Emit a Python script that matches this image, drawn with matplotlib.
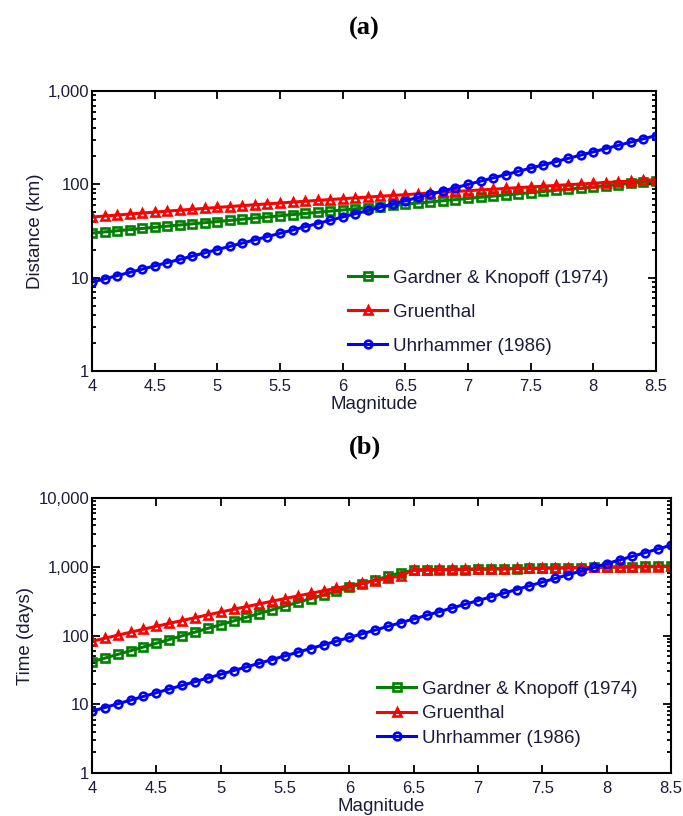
import matplotlib
matplotlib.use("Agg")
import matplotlib.pyplot as plt
import numpy as np
from matplotlib.ticker import FixedLocator, FuncFormatter, LogLocator, NullFormatter

plt.rcParams["font.family"] = ["Liberation Sans", "DejaVu Sans"]

magnitude = [round(4.0 + 0.1 * i, 1) for i in range(46)]

# window distances (km)
gk_distance = [
    30.08, 30.95, 31.84, 32.76, 33.71, 34.68, 35.69, 36.72, 37.78, 38.87,
    39.99, 41.15, 42.34, 43.56, 44.82, 46.12, 47.45, 48.82, 50.23, 51.69,
    53.18, 54.72, 56.30, 57.93, 59.60, 61.33, 63.10, 64.92, 66.80, 68.73,
    70.72, 72.76, 74.87, 77.03, 79.26, 81.55, 83.91, 86.33, 88.83, 91.40,
    94.04, 96.76, 99.56, 102.4, 105.4, 108.4,
]
gruenthal_distance = [
    44.67, 45.80, 46.94, 48.10, 49.28, 50.46, 51.67, 52.89, 54.12, 55.37,
    56.64, 57.92, 59.22, 60.53, 61.87, 63.22, 64.58, 65.96, 67.36, 68.78,
    70.21, 71.66, 73.13, 74.61, 76.12, 77.65, 79.19, 80.75, 82.33, 83.93,
    85.55, 87.19, 88.84, 90.52, 92.22, 93.94, 95.67, 97.43, 99.21, 101.0,
    102.8, 104.7, 106.5, 108.4, 110.3, 112.3,
]
uhrhammer_distance = [
    8.954, 9.704, 10.52, 11.40, 12.35, 13.39, 14.51, 15.72, 17.04, 18.46,
    20.01, 21.68, 23.50, 25.47, 27.60, 29.91, 32.41, 35.13, 38.07, 41.26,
    44.71, 48.46, 52.51, 56.91, 61.68, 66.84, 72.44, 78.50, 85.07, 92.20,
    99.92, 108.3, 117.3, 127.2, 137.8, 149.3, 161.8, 175.4, 190.1, 206.0,
    223.2, 241.9, 262.2, 284.1, 307.9, 333.7,
]

# window durations (days)
gk_time = [
    41.37, 46.86, 53.07, 60.11, 68.09, 77.12, 87.35, 98.94, 112.1, 126.9,
    143.8, 162.8, 184.4, 208.9, 236.6, 268.0, 303.5, 343.8, 389.4, 441.0,
    499.5, 565.8, 640.8, 725.8, 822.1, 884.9, 891.5, 898.1, 904.7, 911.4,
    918.2, 924.9, 931.8, 938.7, 945.6, 952.6, 959.7, 966.8, 973.9, 981.1,
    988.4, 995.7, 1003.1, 1010.5, 1018.0, 1025.5,
]
gruenthal_time = [
    82.32, 91.25, 101.0, 111.7, 123.4, 136.1, 150.0, 165.2, 181.6, 199.5,
    219.1, 240.2, 263.2, 288.2, 315.2, 344.5, 376.2, 410.5, 447.6, 487.6,
    530.9, 577.6, 628.0, 682.3, 740.9, 903.6, 908.6, 913.6, 918.7, 923.8,
    928.9, 934.0, 939.2, 944.4, 949.6, 955.0, 960.3, 965.6, 970.9, 976.3,
    981.7, 987.2, 992.6, 998.1, 1003.7, 1009.2,
]
uhrhammer_time = [
    7.925, 8.967, 10.15, 11.48, 12.99, 14.70, 16.63, 18.81, 21.28, 24.08,
    27.25, 30.83, 34.88, 39.47, 44.66, 50.53, 57.17, 64.68, 73.19, 82.81,
    93.69, 106.0, 119.9, 135.7, 153.5, 173.7, 196.6, 222.4, 251.6, 284.7,
    322.1, 364.5, 412.4, 466.6, 527.9, 597.3, 675.8, 764.7, 865.2, 978.9,
    1107.6, 1253, 1418, 1604, 1815, 2054,
]

labels = ["Gardner & Knopoff (1974)", "Gruenthal", "Uhrhammer (1986)"]
styles = [("#008000", "s"), ("#ff0000", "^"), ("#0000ff", "o")]
x_ticks = [4, 4.5, 5, 5.5, 6, 6.5, 7, 7.5, 8, 8.5]
text_color = "#1c1c3a"


def _comma(value, _):
    return f"{value:,.0f}"


def _mag(value, _):
    return f"{value:g}"


def draw_panel(ax, series, ylabel, ymax, legend_anchor, spacing):
    for values, label, (color, marker) in zip(series, labels, styles):
        ax.plot(
            magnitude, values, color=color, marker=marker, markersize=5.5,
            markerfacecolor="none", markeredgewidth=1.9, linewidth=2.2,
            label=label,
        )
    ax.set_yscale("log")
    ax.set_xlim(4, 8.5)
    ax.set_ylim(1, ymax)
    ax.xaxis.set_major_locator(FixedLocator(x_ticks))
    ax.xaxis.set_major_formatter(FuncFormatter(_mag))
    ax.yaxis.set_major_locator(LogLocator(base=10))
    ax.yaxis.set_major_formatter(FuncFormatter(_comma))
    ax.yaxis.set_minor_locator(LogLocator(base=10, subs=np.arange(2, 10)))
    ax.yaxis.set_minor_formatter(NullFormatter())
    ax.tick_params(which="both", direction="in", top=True, right=True,
                   labelsize=12, labelcolor=text_color, width=1.3)
    ax.tick_params(which="major", length=6, pad=2)
    ax.tick_params(axis="x", which="major", pad=6)
    ax.tick_params(which="minor", length=3)
    for spine in ax.spines.values():
        spine.set_linewidth(1.5)
    ax.set_xlabel("Magnitude", fontsize=13.5, color=text_color, labelpad=1)
    ax.set_ylabel(ylabel, fontsize=13.5, color=text_color, labelpad=3)
    ax.legend(
        loc="center left", bbox_to_anchor=legend_anchor, frameon=False,
        fontsize=13.5, handlelength=2.1, handletextpad=0.3,
        labelspacing=spacing, labelcolor=text_color,
    )


fig = plt.figure(figsize=(6.83, 8.16), dpi=100)
ax_a = fig.add_axes([0.1347, 0.5453, 0.8258, 0.3431])
ax_b = fig.add_axes([0.1347, 0.0527, 0.8477, 0.3370])

draw_panel(ax_a, [gk_distance, gruenthal_distance, uhrhammer_distance],
           "Distance (km)", 1000, (0.424, 0.21), 0.9)
draw_panel(ax_b, [gk_time, gruenthal_time, uhrhammer_time],
           "Time (days)", 10000, (0.463, 0.216), 0.4)

fig.text(0.534, 0.965, "(a)", ha="center", va="center", fontsize=19,
         fontweight="bold", family="Liberation Serif")
fig.text(0.534, 0.452, "(b)", ha="center", va="center", fontsize=19,
         fontweight="bold", family="Liberation Serif")

fig.savefig("out.png", dpi=100)
